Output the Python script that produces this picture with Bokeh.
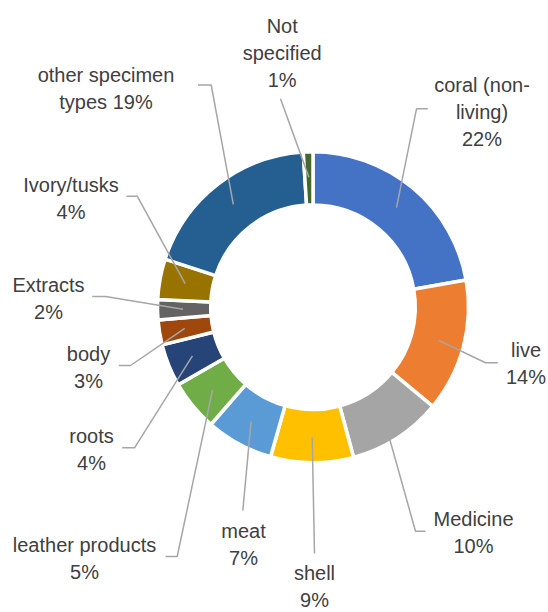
import numpy as np
from bokeh.plotting import figure
from bokeh.models import Range1d, ColumnDataSource
from bokeh.core.properties import value
from bokeh.embed import file_html
from bokeh.resources import INLINE

# ---- data (clockwise from 12 o'clock) ----
categories = ["coral (non-living)", "live", "Medicine", "shell", "meat",
              "leather products", "roots", "body", "Extracts", "Ivory/tusks",
              "other specimen types", "Not specified"]
shares = [22.2, 13.8, 9.8, 8.6, 7.0, 5.3, 4.4, 2.6, 2.1, 4.2, 19.0, 1.0]
label_templates = ["coral (non-\nliving)\n{p}%", "live\n{p}%", "Medicine\n{p}%",
                   "shell\n{p}%", "meat\n{p}%", "leather products\n{p}%",
                   "roots\n{p}%", "body\n{p}%", "Extracts\n{p}%",
                   "Ivory/tusks\n{p}%", "other specimen\ntypes {p}%",
                   "Not\nspecified\n{p}%"]
colors = ["#4472C4", "#ED7D31", "#A5A5A5", "#FFC000", "#5B9BD5", "#70AD47",
          "#264478", "#9E480E", "#636363", "#997300", "#255E91", "#43682B"]

# ---- layout (pixel coordinates, y downward) ----
W, H = 548, 612
CX, CY = 312.5, 306.7
R_OUT, R_IN, R_LEAD = 155.5, 102.3, 130
label_pos = [(481.5, 111), (525.5, 362.5), (473, 532), (314, 585.5), (243, 544),
             (84, 558.3), (91, 449), (88, 366.7), (48, 298.3), (70.5, 197.5),
             (105.5, 88.3), (281.7, 52.7)]
leader_pts = [[(416, 108.3), (427.3, 108.3)], [(485, 362.3), (497.3, 362.3)],
              [(415, 530.7), (425, 530.7)], [(314, 553)], [(242.3, 510)],
              [(176.7, 556), (165, 556)], [(134, 447.3), (121.7, 447.3)],
              [(130, 365), (118.3, 365)], [(105, 296), (91.7, 296)],
              [(136.7, 195.7), (126, 195.7)], [(210.7, 84.5), (197.5, 84.5)],
              [(280, 98.3)]]
LINE_H = 27
FONT_PX = 20

vals = np.array(shares, dtype=float)
frac = vals / vals.sum()
cum_end = np.cumsum(frac)
cum_start = cum_end - frac
start_ang = np.pi / 2 - 2 * np.pi * cum_start
end_ang = np.pi / 2 - 2 * np.pi * cum_end
mid_ang = (start_ang + end_ang) / 2

p = figure(width=W, height=H, x_range=Range1d(0, W), y_range=Range1d(0, H),
           output_backend="svg", toolbar_location=None,
           x_axis_type=None, y_axis_type=None,
           min_border=0, min_border_left=0, min_border_right=0,
           min_border_top=0, min_border_bottom=0)
p.grid.visible = False
p.outline_line_color = None
p.background_fill_color = "white"
p.border_fill_color = "white"

src = ColumnDataSource(dict(start=start_ang, end=end_ang, color=colors, cat=categories))
p.annular_wedge(x=CX, y=H - CY, inner_radius=R_IN, outer_radius=R_OUT,
                start_angle="start", end_angle="end", direction="clock",
                fill_color="color", line_color="white", line_width=3.5, source=src)

# leader lines
xs, ys = [], []
for a, pts in zip(mid_ang, leader_pts):
    mx = CX + R_LEAD * np.cos(a)
    my = (H - CY) + R_LEAD * np.sin(a)
    xs.append([mx] + [q[0] for q in pts])
    ys.append([my] + [H - q[1] for q in pts])
p.multi_line(xs, ys, line_color="#A6A6A6", line_width=1.5)

# labels
tx, ty, tt = [], [], []
for v, tmpl, (lx, lyc) in zip(vals, label_templates, label_pos):
    lines = tmpl.format(p=int(round(v))).split("\n")
    n = len(lines)
    for i, s in enumerate(lines):
        cy_line = lyc + (i - (n - 1) / 2) * LINE_H
        tx.append(lx)
        ty.append(H - cy_line)
        tt.append(s)
p.text(x=tx, y=ty, text=tt, text_font=value("Liberation Sans"),
       text_font_size=f"{FONT_PX}px", text_color="#404040",
       text_align="center", text_baseline="middle")

open("out.html", "w").write(file_html(p, INLINE))
